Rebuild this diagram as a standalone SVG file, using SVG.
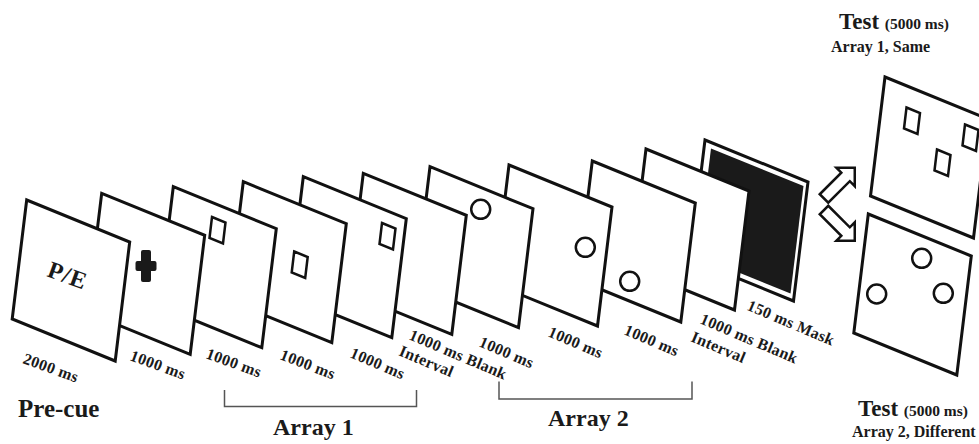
<svg xmlns="http://www.w3.org/2000/svg" xmlns:xlink="http://www.w3.org/1999/xlink" width="979" height="444" viewBox="0 0 979 444">
  <style>
    .fr { fill: #ffffff; stroke: #111111; stroke-width: 3; stroke-linejoin: miter; }
    .sq { fill: none; stroke: #111111; stroke-width: 2.5; }
    .dot { fill: none; stroke: #111111; stroke-width: 2.5; }
    .ink { fill: #1a1a1a; }
    .arw { fill: #ffffff; stroke: #111111; stroke-width: 2.5; stroke-linejoin: miter; }
    .brk { fill: none; stroke: #555555; stroke-width: 1.5; }
    .t { font-family: "Liberation Serif", "Times New Roman", serif; font-weight: bold; fill: #1a1a1a; }
    .lbl { font-size: 16px; letter-spacing: 0.3px; }
    .big { font-size: 25px; }
    .mid { font-size: 24px; }
    .sub { font-size: 16px; }
  </style>
  <defs>
    <!-- one slanted screen: top edge and left edge vectors -->
    <path id="frame" d="M0,0 L103,42 L88.5,161 L-14.5,119 Z"/>
    <!-- small slanted rectangle stimulus -->
    <path id="sq" d="M0,0 l13.5,5.5 l-2.5,21 l-13.5,-5.5 z"/>
    <!-- hollow block arrow, tail centre at origin, pointing +x -->
    <path id="arrow" d="M0,-6 H30.5 V-13 L43.5,0 L30.5,13 V6 H0 Z"/>
  </defs>

  <!-- screens, drawn back to front -->
  <g id="mask">
    <use xlink:href="#frame" class="fr" transform="translate(705,140)"/>
    <path class="ink" d="M711,148.5 L803.5,186 L790.5,293.5 L698,256 Z"/>
  </g>
  <g id="blank2">
    <use xlink:href="#frame" class="fr" transform="translate(646,149)"/>
  </g>
  <g id="array2-c">
    <use xlink:href="#frame" class="fr" transform="translate(592.3,161)"/>
    <circle class="dot" cx="629.7" cy="281.3" r="9.5"/>
  </g>
  <g id="array2-b">
    <use xlink:href="#frame" class="fr" transform="translate(509,165)"/>
    <circle class="dot" cx="585.3" cy="247.3" r="9.5"/>
  </g>
  <g id="array2-a">
    <use xlink:href="#frame" class="fr" transform="translate(430,166.7)"/>
    <circle class="dot" cx="480.7" cy="209.3" r="9.5"/>
  </g>
  <g id="blank1">
    <use xlink:href="#frame" class="fr" transform="translate(363.3,173.3)"/>
  </g>
  <g id="array1-c">
    <use xlink:href="#frame" class="fr" transform="translate(303.3,176.7)"/>
    <use xlink:href="#sq" class="sq" transform="translate(382,223)"/>
  </g>
  <g id="array1-b">
    <use xlink:href="#frame" class="fr" transform="translate(243.3,181.7)"/>
    <use xlink:href="#sq" class="sq" transform="translate(294.2,251.5)"/>
  </g>
  <g id="array1-a">
    <use xlink:href="#frame" class="fr" transform="translate(173.3,186.7)"/>
    <use xlink:href="#sq" class="sq" transform="translate(212,217)"/>
  </g>
  <g id="fixation">
    <use xlink:href="#frame" class="fr" transform="translate(101.7,193.3)"/>
    <rect class="ink" x="141" y="250" width="10" height="32" rx="2"/>
    <rect class="ink" x="135.5" y="261" width="21" height="10" rx="2"/>
  </g>
  <g id="precue">
    <use xlink:href="#frame" class="fr" transform="translate(26.7,200)"/>
    <text class="t" font-size="24" letter-spacing="1" transform="translate(46,276) rotate(20)">P/E</text>
  </g>

  <!-- test screens -->
  <g id="test-same">
    <use xlink:href="#frame" class="fr" transform="translate(885,77)"/>
    <use xlink:href="#sq" class="sq" transform="translate(906.5,107.5)"/>
    <use xlink:href="#sq" class="sq" transform="translate(965,124.5)"/>
    <use xlink:href="#sq" class="sq" transform="translate(937,149.5)"/>
  </g>
  <g id="test-different">
    <use xlink:href="#frame" class="fr" transform="translate(868.3,214)"/>
    <circle class="dot" cx="921.7" cy="258.3" r="9.5"/>
    <circle class="dot" cx="876.7" cy="294" r="9.5"/>
    <circle class="dot" cx="943.3" cy="293.3" r="9.5"/>
  </g>

  <!-- connectors: the two outcome arrows -->
  <g id="connectors">
    <use xlink:href="#arrow" class="arw" transform="translate(824,198.5) rotate(-45)"/>
    <use xlink:href="#arrow" class="arw" transform="translate(824,210) rotate(45)"/>
  </g>

  <!-- duration labels under each screen -->
  <g id="durations" class="t lbl">
    <text transform="translate(22,363) rotate(20)">2000 ms</text>
    <text transform="translate(129,360) rotate(20)">1000 ms</text>
    <text transform="translate(205,358) rotate(20)">1000 ms</text>
    <text transform="translate(279,359) rotate(21)">1000 ms</text>
    <text transform="translate(349,357) rotate(23)">1000 ms</text>
    <text transform="translate(408,339) rotate(23)">1000 ms Blank</text>
    <text transform="translate(398,355) rotate(23)">Interval</text>
    <text transform="translate(478,346) rotate(23)">1000 ms</text>
    <text transform="translate(547,336) rotate(23)">1000 ms</text>
    <text transform="translate(623,334) rotate(23)">1000 ms</text>
    <text transform="translate(699,323) rotate(23)">1000 ms Blank</text>
    <text transform="translate(690,341) rotate(23)">Interval</text>
    <text transform="translate(746,309.5) rotate(23)">150 ms Mask</text>
  </g>

  <!-- phase brackets and titles -->
  <g id="phases">
    <path class="brk" d="M224.5,390 V406.5 H416.5 V390"/>
    <path class="brk" d="M499,381.5 V399 H692 V381.5"/>
    <text class="t big" x="18" y="417">Pre-cue</text>
    <text class="t mid" x="273" y="435">Array 1</text>
    <text class="t mid" x="548" y="426">Array 2</text>
  </g>

  <g id="test-titles" class="t">
    <text x="839" y="28.5" font-size="23">Test <tspan font-size="15.5">(5000 ms)</tspan></text>
    <text class="sub" x="831" y="51.5">Array 1, Same</text>
    <text x="858" y="415.5" font-size="23">Test <tspan font-size="15.5">(5000 ms)</tspan></text>
    <text class="sub" x="852" y="437">Array 2, Different</text>
  </g>
</svg>
